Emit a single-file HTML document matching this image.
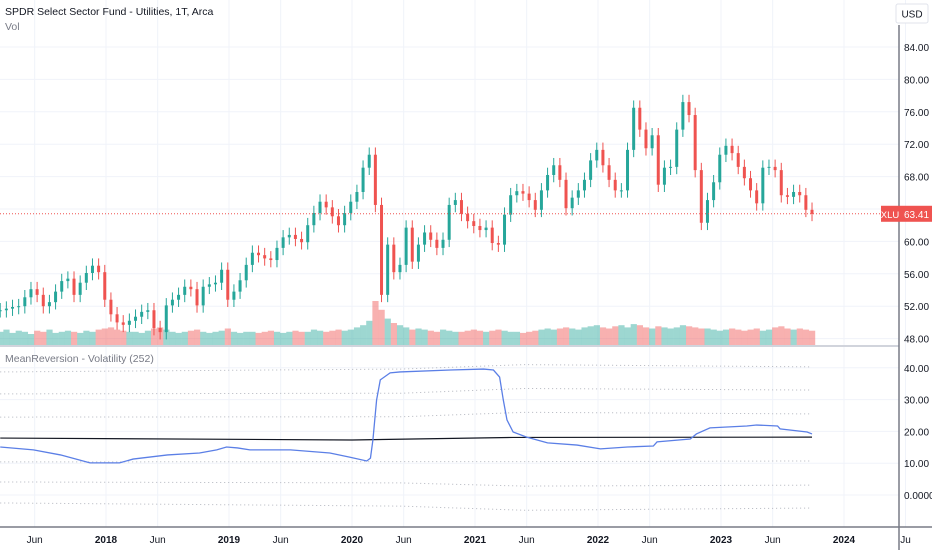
<!DOCTYPE html>
<html><head><meta charset="utf-8">
<style>
html,body{margin:0;padding:0;background:#fff;}
body{width:932px;height:550px;overflow:hidden;font-family:"Liberation Sans",sans-serif;}
svg text{font-family:"Liberation Sans",sans-serif;}
</style></head>
<body>
<svg id="chart" width="932" height="550" xmlns="http://www.w3.org/2000/svg">
<g id="grid"></g>
<g id="bands"></g>
<g id="volume"></g>
<g id="candles"></g>
<g id="ind"></g>
<g id="axes"></g>
<text x="5" y="15" font-size="10.5" fill="#131722">SPDR Select Sector Fund - Utilities, 1T, Arca</text>
<text x="5" y="30" font-size="10.5" fill="#787b86">Vol</text>
<text x="5" y="362" font-size="10.5" fill="#787b86">MeanReversion - Volatility (252)</text>
<g><rect x="896" y="4" width="32" height="19" rx="2" fill="#fff" stroke="#e0e3eb"/><text x="912" y="17.5" font-size="10" text-anchor="middle" fill="#131722">USD</text></g>
</svg>
<script>
// ---- data ----
const candleStart = 2017.14;
const candleStep = 0.05;
const closes = [51.5,51.7,51.9,52.0,53.1,54.1,53.4,52.0,52.5,53.8,55.1,55.4,53.4,54.9,56.1,57.0,56.2,52.8,51.0,50.0,49.7,50.2,50.7,51.3,51.5,49.3,48.8,52.1,52.8,53.4,54.4,54.1,52.1,54.4,54.7,54.9,56.5,52.8,53.8,55.2,57.1,58.6,58.3,57.9,57.7,59.2,60.5,60.8,60.3,59.9,62.0,63.5,64.9,64.2,63.1,62.0,63.5,64.9,66.1,69.1,70.7,64.5,53.4,59.6,56.2,57.1,61.7,57.5,59.6,61.1,60.2,59.2,60.2,64.5,65.1,63.4,62.5,61.9,61.4,61.7,59.8,59.6,63.3,65.7,66.2,65.9,65.1,63.9,66.3,68.2,69.4,67.6,64.1,65.4,66.3,67.6,70.0,71.3,69.4,67.6,66.3,66.3,71.3,76.5,73.8,71.5,73.1,67.0,69.1,69.2,73.8,77.2,75.6,68.8,62.3,65.1,67.3,70.7,71.8,70.9,69.2,67.8,66.3,64.7,69.1,69.2,68.8,65.7,65.5,66.1,65.7,63.9,63.4];
const volumes = [12,14,11,13,12,10,13,12,14,11,12,13,12,11,13,12,14,15,16,14,13,12,12,11,13,15,16,14,12,11,12,13,14,12,11,12,13,15,12,11,12,12,11,12,13,12,11,12,13,12,12,14,13,12,13,14,13,14,16,18,22,40,32,24,20,18,16,14,15,14,13,12,14,13,12,12,13,14,13,12,13,14,13,12,12,11,12,13,14,15,14,15,16,15,14,16,17,18,16,15,17,18,16,19,18,16,15,17,16,15,16,18,17,16,15,15,14,13,14,15,14,13,14,15,13,14,16,17,15,14,15,14,13];
const volDates = [2017.14,2017.41,2017.63,2017.87,2017.95,2018.11,2018.22,2018.50,2018.76,2018.90,2018.98,2019.07,2019.17,2019.50,2019.82,2019.98,2020.12,2020.15,2020.17,2020.20,2020.23,2020.31,2020.39,2020.80,2021.07,2021.15,2021.20,2021.23,2021.26,2021.31,2021.42,2021.59,2021.83,2022.02,2022.24,2022.45,2022.48,2022.75,2022.80,2022.91,2023.21,2023.29,2023.46,2023.48,2023.70,2023.74];
const volValues = [15.1,14.2,12.6,10.1,10.1,10.1,11.3,12.6,13.2,14.2,15.1,14.8,14.2,14.2,13.2,11.9,10.7,11.6,17.3,29.9,36.2,38.4,38.7,39.3,39.6,39.3,37.1,29.9,23.6,19.8,18.2,16.4,15.7,14.5,15.1,15.4,16.7,17.6,19.2,21.1,21.7,22.0,21.7,20.8,19.8,19.2];
const meanDates = [2017.14,2020.0,2021.31,2023.74];
const meanValues = [17.9,17.3,18.1,18.2];
const bandDates = [2017.14,2020.4,2021.4,2023.74];
const band1 = [38.7,39.6,41.0,40.3];
const band2 = [31.8,32.0,33.5,33.0];
const band3 = [24.5,24.6,26.0,25.5];
const band4 = [10.4,10.5,10.5,10.7];
const band5 = [4.1,3.8,2.8,3.1];
const band6 = [-2.5,-3.5,-4.8,-4.1];
const priceTicks = [84,80,76,72,68,60,56,52,48];
const priceTickLabels = ["84.00","80.00","76.00","72.00","68.00","60.00","56.00","52.00","48.00"];
const volTicks = [40,30,20,10,0];
const volTickLabels = ["40.00","30.00","20.00","10.00","0.0000"];
const timeTicks = [2017.42,2018,2018.42,2019,2019.42,2020,2020.42,2021,2021.42,2022,2022.42,2023,2023.42,2024,2024.5];
const timeTickLabels = ["Jun","2018","Jun","2019","Jun","2020","Jun","2021","Jun","2022","Jun","2023","Jun","2024","Ju"];
const lastPrice = 63.41;

// ---- scales ----
const NS = "http://www.w3.org/2000/svg";
const X = t => 106 + (t - 2018) * 123;
const Y = p => 47 + (84 - p) * 8.1;
const YV = v => 495 - v * 3.18;
const VOLBASE = 345, volScale = 1.1;
function mk(tag, attrs, parent){const e=document.createElementNS(NS,tag);for(const k in attrs)e.setAttribute(k,attrs[k]);parent.appendChild(e);return e;}
const grid=document.getElementById('grid'), axes=document.getElementById('axes');

timeTicks.forEach(t=>{const l=mk('line',{x1:X(t),x2:X(t),y1:0,y2:527,stroke:'#f0f3fa'},grid);

});
priceTicks.concat([64]).forEach(p=>{const l=mk('line',{x1:0,x2:899,y1:Y(p),y2:Y(p),stroke:'#f0f3fa'},grid);

});
volTicks.forEach(v=>{const l=mk('line',{x1:0,x2:899,y1:YV(v),y2:YV(v),stroke:'#f0f3fa'},grid);

});

[band1,band2,band3,band4,band5,band6].forEach(b=>{
 const pts=bandDates.map((d,i)=>X(d)+','+YV(b[i])).join(' ');
 const pl=mk('polyline',{points:pts,fill:'none',stroke:'#b2b5be','stroke-width':1,'stroke-dasharray':'1 3'},document.getElementById('bands'));
 
 
});

const cg=document.getElementById('candles'), vg=document.getElementById('volume');
closes.forEach((c,i)=>{
 const o=i>0?closes[i-1]:c; const t=candleStart+i*candleStep; const x=X(t);
 const up=c>=o; const col=up?'#26a69a':'#ef5350';
 const hi=Math.max(o,c)+0.9, lo=Math.min(o,c)-0.9;
 const w=mk('line',{x1:x,x2:x,y1:Y(hi),y2:Y(lo),stroke:col,'stroke-width':1},cg);
 
 
 const yt=Y(Math.max(o,c)), yb=Y(Math.min(o,c));
 const r=mk('rect',{x:x-1.5,y:yt,width:3,height:Math.max(1,yb-yt),fill:col},cg);
 
 
 const h=volumes[i]*volScale;
 const vb=mk('rect',{x:x-3,y:VOLBASE-h,width:6.2,height:h,fill:up?'rgba(38,166,154,0.45)':'rgba(239,83,80,0.45)'},vg);
 
 
});

const ig=document.getElementById('ind');
const mean=mk('polyline',{points:meanDates.map((d,i)=>X(d)+','+YV(meanValues[i])).join(' '),fill:'none',stroke:'#131722','stroke-width':1.2},ig);


const vl=mk('polyline',{points:volDates.map((d,i)=>X(d)+','+YV(volValues[i])).join(' '),fill:'none',stroke:'#5b7fe6','stroke-width':1.3},ig);



const lp=mk('line',{x1:0,x2:899,y1:Y(lastPrice),y2:Y(lastPrice),stroke:'#ef5350','stroke-width':1,'stroke-dasharray':'1 2'},axes);



const pd=mk('line',{x1:0,x2:899,y1:346,y2:346,stroke:'#d1d4dc','stroke-width':2},axes);


const ax=mk('line',{x1:0,x2:932,y1:527,y2:527,stroke:'#787b86','stroke-width':1.5},axes);


const ay=mk('line',{x1:899,x2:899,y1:25,y2:550,stroke:'#787b86','stroke-width':1.5},axes);



priceTicks.forEach((p,i)=>{const t=mk('text',{x:904,y:Y(p)+4,'font-size':10,fill:'#131722'},axes);t.textContent=priceTickLabels[i];

});
volTicks.forEach((v,i)=>{const t=mk('text',{x:904,y:YV(v)+4,'font-size':10,fill:'#131722'},axes);t.textContent=volTickLabels[i];

});
timeTicks.forEach((d,i)=>{const lab=timeTickLabels[i];const yr=/^\d{4}$/.test(lab);
 const t=mk('text',{x:X(d),y:543,'font-size':10,'text-anchor':'middle',fill:'#131722','font-weight':yr?'bold':'normal'},axes);t.textContent=lab;
 
 });

const ly=Y(lastPrice);
const g=mk('g',{},axes);


mk('rect',{x:881,y:ly-8,width:18,height:16,fill:'#ef5350'},g);
mk('rect',{x:899,y:ly-8,width:33,height:16,fill:'#ef5350'},g);
const t1=mk('text',{x:890,y:ly+4,'font-size':9.5,'text-anchor':'middle',fill:'#fff'},g);t1.textContent='XLU';
const t2=mk('text',{x:904,y:ly+4,'font-size':10,fill:'#fff'},g);t2.textContent=lastPrice.toFixed(2);
</script>
</body></html>
